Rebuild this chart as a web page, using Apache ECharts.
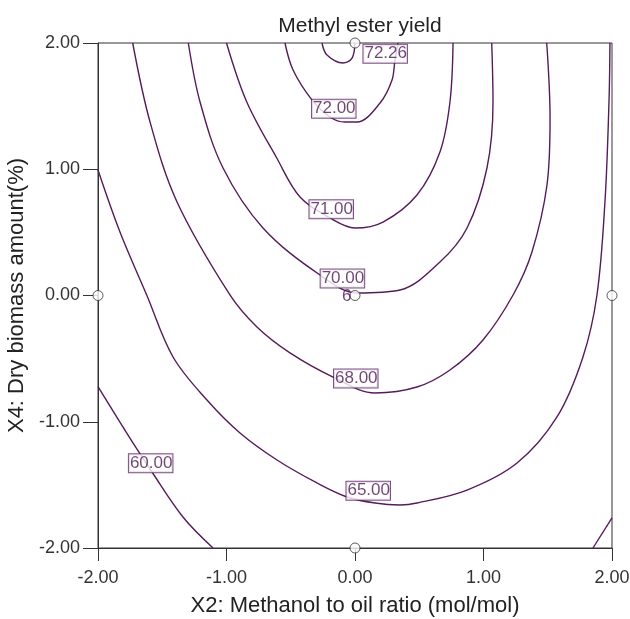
<!DOCTYPE html>
<html>
<head>
<meta charset="utf-8">
<title>Methyl ester yield</title>
<script src="https://cdn.jsdelivr.net/npm/echarts@6/dist/echarts.min.js"></script>
<style>
  html, body { margin: 0; padding: 0; background: #fff; }
  #main { width: 630px; height: 619px; }
</style>
</head>
<body>
<div id="main"></div>
<script>
// contour traces, [X2, X4]
var c7226 = [[-0.257, 2.0], [-0.218, 1.905], [-0.093, 1.842], [-0.023, 1.881], [0.0, 2.0]];
var c7200 = [[-0.545, 2.0], [-0.482, 1.786], [-0.335, 1.549], [-0.195, 1.414], [-0.078, 1.374],
  [0.016, 1.374], [0.195, 1.525], [0.288, 1.707], [0.311, 1.865], [0.335, 2.0]];
var c7100 = [[-1.0, 2.0], [-0.843, 1.535], [-0.609, 1.089], [-0.428, 0.780], [-0.195, 0.614],
  [0.0, 0.535], [0.218, 0.582], [0.482, 0.796], [0.661, 1.137], [0.739, 1.533], [0.763, 2.0]];
var c7000 = [[-1.297, 2.0], [-1.206, 1.533], [-1.027, 1.010], [-0.716, 0.535], [-0.272, 0.162],
  [0.016, 0.020], [0.350, 0.044], [0.661, 0.265], [0.872, 0.535], [1.027, 1.010],
  [1.074, 1.533], [1.064, 2.0]];
var c6800 = [[-1.730, 2.0], [-1.595, 1.374], [-1.385, 0.741], [-0.973, 0.004], [-0.763, -0.250],
  [-0.506, -0.455], [-0.171, -0.646], [0.156, -0.772], [0.482, -0.725], [0.739, -0.590],
  [0.996, -0.352], [1.230, 0.004], [1.377, 0.345], [1.494, 0.875], [1.518, 1.406], [1.492, 2.0]];
var c6500 = [[-2.0, 0.994], [-1.829, 0.503], [-1.621, 0.004], [-1.416, -0.487], [-1.152, -0.828],
  [-0.895, -1.089], [-0.607, -1.303], [-0.296, -1.485], [-0.062, -1.596], [0.156, -1.644],
  [0.350, -1.659], [0.482, -1.644], [0.872, -1.541], [1.261, -1.327], [1.572, -0.962],
  [1.774, -0.487], [1.883, 0.004], [1.946, 0.756], [1.977, 1.549], [1.984, 2.0]];
var c6000a = [[-2.0, -0.722], [-1.728, -1.168], [-1.580, -1.398], [-1.339, -1.754], [-1.105, -2.0]];
var c6000b = [[1.852, -2.0], [2.0, -1.762]];

var contours = [c7226, c7200, c7100, c7000, c6800, c6500, c6000a, c6000b];

// contour level labels: [X2, X4, text]
var levelLabels = [
  [0.235, 1.915, '72.26'],
  [-0.165, 1.480, '72.00'],
  [-0.185, 0.684, '71.00'],
  [-0.098, 0.134, '70.00'],
  [0.006, -0.658, '68.00'],
  [0.103, -1.546, '65.00'],
  [-1.590, -1.328, '60.00']
];

// design points, the centre one has 6 replicates
var designPoints = [[0, 2], [-2, 0], [0, 0], [2, 0], [0, -2]];
var designCounts = ['', '', '6', '', ''];

var ink = '#561b5b';
var fontFam = '"Liberation Sans", Arial, sans-serif';

var series = [];
contours.forEach(function (c) {
  series.push({
    type: 'line',
    data: c,
    smooth: 0.35,
    showSymbol: false,
    silent: true,
    lineStyle: { color: ink, width: 1.4 },
    z: 2
  });
});

series.push({
  type: 'scatter',
  data: levelLabels.map(function (d) { return { value: [d[0], d[1]], name: d[2] }; }),
  symbolSize: 0,
  silent: true,
  z: 5,
  label: {
    show: true,
    position: 'inside',
    formatter: function (p) { return p.name; },
    color: '#4e1854',
    fontSize: 17,
    fontFamily: fontFam,
    backgroundColor: '#fff',
    borderColor: '#5e2566',
    borderWidth: 1,
    padding: [0, 0, 0, 1],
    lineHeight: 18
  }
});

series.push({
  type: 'scatter',
  data: designPoints.map(function (d, i) { return { value: d, name: designCounts[i] }; }),
  symbol: 'circle',
  symbolSize: 10,
  clip: false,
  silent: true,
  z: 6,
  itemStyle: { color: '#fff', borderColor: '#333', borderWidth: 1 },
  label: {
    show: true,
    position: 'left',
    distance: 0,
    offset: [2, 1],
    formatter: function (p) { return p.name; },
    color: '#4e1854',
    fontSize: 17,
    fontFamily: fontFam
  }
});

var chart = echarts.init(document.getElementById('main'));
chart.setOption({
  animation: false,
  backgroundColor: '#fff',
  title: {
    text: 'Methyl ester yield',
    left: 355,
    textAlign: 'center',
    top: 11,
    textStyle: { fontSize: 21, fontWeight: 'normal', color: '#222', fontFamily: fontFam }
  },
  grid: {
    left: 98, right: 18, top: 43, bottom: 71,
    outerBoundsMode: 'none',
    containLabel: false,
    show: true, borderColor: '#333', borderWidth: 1
  },
  xAxis: {
    type: 'value', min: -2, max: 2, interval: 1,
    name: 'X2: Methanol to oil ratio (mol/mol)',
    nameLocation: 'middle', nameGap: 47,
    nameTextStyle: { fontSize: 22, color: '#222', fontFamily: fontFam },
    axisLine: { show: true, onZero: false, lineStyle: { color: '#333' } },
    axisTick: { show: true, length: 13, lineStyle: { color: '#333' } },
    axisLabel: {
      margin: 21, fontSize: 18, color: '#333', fontFamily: fontFam,
      formatter: function (v) { return v.toFixed(2); }
    },
    splitLine: { show: false }
  },
  yAxis: {
    type: 'value', min: -2, max: 2, interval: 1,
    name: 'X4: Dry biomass amount(%)',
    nameLocation: 'middle', nameGap: 67,
    nameTextStyle: { fontSize: 22, color: '#222', fontFamily: fontFam },
    axisLine: { show: true, onZero: false, lineStyle: { color: '#333' } },
    axisTick: { show: true, length: 15, lineStyle: { color: '#333' } },
    axisLabel: {
      margin: 18, fontSize: 18, color: '#333', fontFamily: fontFam,
      formatter: function (v) { return v.toFixed(2); }
    },
    splitLine: { show: false }
  },
  series: series
});
</script>
</body>
</html>
